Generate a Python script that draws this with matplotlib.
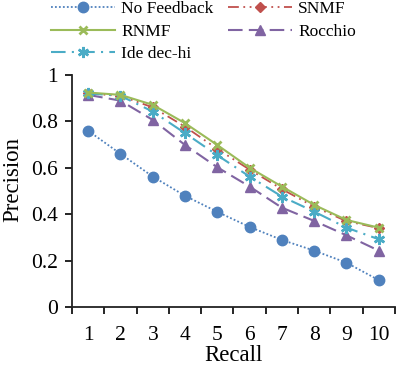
import matplotlib.pyplot as plt

plt.rcParams['font.family'] = ['Liberation Serif', 'DejaVu Serif']

recall = [1, 2, 3, 4, 5, 6, 7, 8, 9, 10]
no_feedback = [0.759, 0.660, 0.562, 0.479, 0.410, 0.345, 0.289, 0.243, 0.191, 0.116]
snmf = [0.920, 0.910, 0.860, 0.777, 0.681, 0.592, 0.508, 0.432, 0.370, 0.340]
rnmf = [0.924, 0.914, 0.871, 0.792, 0.698, 0.600, 0.519, 0.440, 0.375, 0.342]
rocchio = [0.914, 0.889, 0.806, 0.698, 0.602, 0.519, 0.428, 0.371, 0.309, 0.243]
ide_dec_hi = [0.920, 0.910, 0.842, 0.749, 0.654, 0.562, 0.476, 0.411, 0.342, 0.292]

fig = plt.figure(figsize=(3.96, 3.69), dpi=100)
ax = fig.add_axes([0.182, 0.168, 0.815, 0.629])

l_nf, = ax.plot(recall, no_feedback, color='#4F81BD', linestyle=(0, (1, 1.2)), lw=1.3,
                marker='o', ms=7.5, label='No Feedback')
l_rn, = ax.plot(recall, rnmf, color='#9BBB59', linestyle='-', lw=1.5,
                marker='x', ms=6, mew=2, label='RNMF')
l_sn, = ax.plot(recall, snmf, color='#C0504D', linestyle=(0, (6, 2.5, 1, 2.5, 1, 2.5)), lw=1.3,
                marker='D', ms=5, label='SNMF')
l_ro, = ax.plot(recall, rocchio, color='#8064A2', linestyle=(0, (7, 3)), lw=1.5,
                marker='^', ms=7.5, label='Rocchio')
l_id, = ax.plot(recall, ide_dec_hi, color='#4BACC6', linestyle=(0, (7, 3, 1, 3)), lw=1.5,
                marker=(6, 2, 0), ms=8, mew=1.8, label='Ide dec-hi')
# bring RNMF on top like the reference
l_rn.set_zorder(3)

ax.set_xlim(0.5, 10.5)
ax.set_ylim(0, 1)
ax.set_xticks(recall)
ax.set_xticks([x + 0.5 for x in range(0, 11)], minor=True)
ax.tick_params(axis='x', which='major', length=0, labelsize=15.5, pad=14)
ax.tick_params(axis='x', which='minor', length=5, width=1.2, direction='out')
ax.set_yticks([0, 0.2, 0.4, 0.6, 0.8, 1])
ax.set_yticklabels(['0', '0.2', '0.4', '0.6', '0.8', '1'])
ax.tick_params(axis='y', length=5, width=1.2, direction='out', labelsize=15.5, pad=5)

for s in ['top', 'right']:
    ax.spines[s].set_visible(False)
for s in ['left', 'bottom']:
    ax.spines[s].set_linewidth(1.3)
    ax.spines[s].set_color('#222222')

ax.set_xlabel('Recall', fontsize=16.5, labelpad=0)
ax.set_ylabel('Precision', fontsize=16.5)
ax.yaxis.set_label_coords(-0.152, 0.55)

handles = [l_nf, l_rn, l_id, l_sn, l_ro]
fig.legend(handles=handles, loc='upper left', bbox_to_anchor=(0.128, 0.998), ncol=2,
           frameon=False, fontsize=12.5, handlelength=3.7, columnspacing=0.85,
           labelspacing=0.38, handletextpad=0.35, borderaxespad=0, borderpad=0)

fig.savefig('out.png', dpi=100)
